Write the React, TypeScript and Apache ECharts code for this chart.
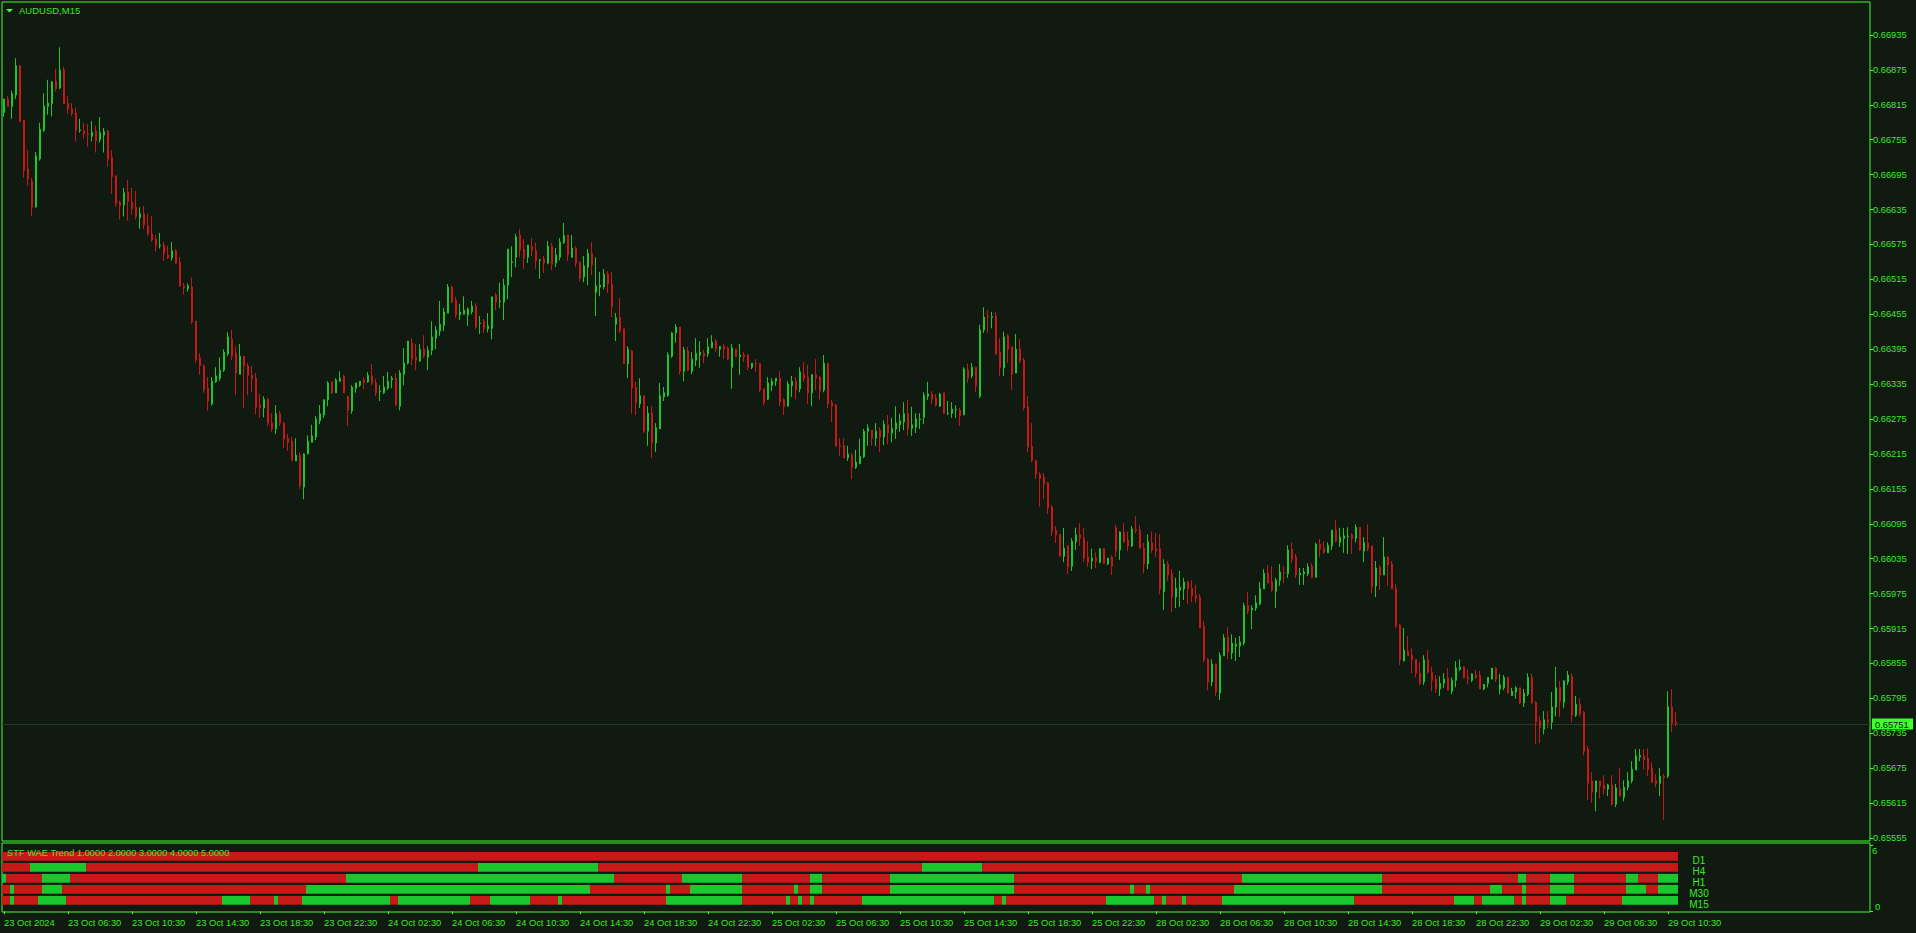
import React, { useEffect, useRef } from "react";
import * as echarts from "echarts";

// ---------- data (AUDUSD, M15) ----------
const symbolTitle = "AUDUSD,M15";
const indicatorTitle = "STF WAE Trend 1.0000 2.0000 3.0000 4.0000 5.0000";
const lastPrice = 0.65751;

const tickLabels = [
  "23 Oct 2024", "23 Oct 06:30", "23 Oct 10:30", "23 Oct 14:30", "23 Oct 18:30", "23 Oct 22:30",
  "24 Oct 02:30", "24 Oct 06:30", "24 Oct 10:30", "24 Oct 14:30", "24 Oct 18:30", "24 Oct 22:30",
  "25 Oct 02:30", "25 Oct 06:30", "25 Oct 10:30", "25 Oct 14:30", "25 Oct 18:30", "25 Oct 22:30",
  "28 Oct 02:30", "28 Oct 06:30", "28 Oct 10:30", "28 Oct 14:30", "28 Oct 18:30", "28 Oct 22:30",
  "29 Oct 02:30", "29 Oct 06:30", "29 Oct 10:30",
];
const barsPerLabel = 16;

const priceTicks = [
  0.65555, 0.65615, 0.65675, 0.65735, 0.65795, 0.65855, 0.65915, 0.65975, 0.66035, 0.66095,
  0.66155, 0.66215, 0.66275, 0.66335, 0.66395, 0.66455, 0.66515, 0.66575, 0.66635, 0.66695,
  0.66755, 0.66815, 0.66875, 0.66935,
];

const opens = [
  0.66802, 0.66825, 0.66812, 0.66832, 0.66882, 0.66789, 0.66705, 0.66684, 0.66640, 0.66722,
  0.66771, 0.66812, 0.66817, 0.66856, 0.66844, 0.66875, 0.66818, 0.66808, 0.66801, 0.66771,
  0.66770, 0.66765, 0.66761, 0.66770, 0.66755, 0.66763, 0.66770, 0.66725, 0.66693, 0.66647,
  0.66643, 0.66665, 0.66648, 0.66639, 0.66621, 0.66628, 0.66607, 0.66593, 0.66584, 0.66573,
  0.66574, 0.66557, 0.66552, 0.66564, 0.66545, 0.66504, 0.66499, 0.66502, 0.66443, 0.66380,
  0.66366, 0.66328, 0.66301, 0.66339, 0.66345, 0.66359, 0.66387, 0.66412, 0.66388, 0.66352,
  0.66383, 0.66366, 0.66350, 0.66345, 0.66299, 0.66294, 0.66309, 0.66268, 0.66258, 0.66284,
  0.66268, 0.66242, 0.66237, 0.66203, 0.66213, 0.66158, 0.66215, 0.66235, 0.66244, 0.66272,
  0.66282, 0.66308, 0.66339, 0.66320, 0.66340, 0.66349, 0.66314, 0.66289, 0.66328, 0.66333,
  0.66342, 0.66339, 0.66349, 0.66337, 0.66322, 0.66320, 0.66328, 0.66342, 0.66345, 0.66297,
  0.66352, 0.66371, 0.66406, 0.66381, 0.66375, 0.66395, 0.66381, 0.66393, 0.66414, 0.66426,
  0.66436, 0.66457, 0.66502, 0.66479, 0.66454, 0.66455, 0.66454, 0.66459, 0.66469, 0.66439,
  0.66443, 0.66430, 0.66431, 0.66488, 0.66477, 0.66476, 0.66505, 0.66544, 0.66553, 0.66591,
  0.66567, 0.66553, 0.66572, 0.66564, 0.66548, 0.66550, 0.66543, 0.66572, 0.66543, 0.66553,
  0.66578, 0.66591, 0.66553, 0.66569, 0.66545, 0.66519, 0.66536, 0.66560, 0.66493, 0.66502,
  0.66502, 0.66524, 0.66507, 0.66438, 0.66450, 0.66430, 0.66370, 0.66392, 0.66330, 0.66301,
  0.66315, 0.66254, 0.66285, 0.66234, 0.66258, 0.66313, 0.66316, 0.66383, 0.66423, 0.66433,
  0.66357, 0.66392, 0.66357, 0.66376, 0.66385, 0.66388, 0.66387, 0.66397, 0.66409, 0.66395,
  0.66400, 0.66397, 0.66364, 0.66395, 0.66382, 0.66385, 0.66385, 0.66364, 0.66371, 0.66370,
  0.66327, 0.66309, 0.66333, 0.66340, 0.66345, 0.66308, 0.66297, 0.66332, 0.66340, 0.66327,
  0.66352, 0.66347, 0.66320, 0.66351, 0.66347, 0.66325, 0.66371, 0.66303, 0.66299, 0.66229,
  0.66229, 0.66208, 0.66213, 0.66192, 0.66198, 0.66210, 0.66254, 0.66256, 0.66242, 0.66256,
  0.66244, 0.66265, 0.66251, 0.66258, 0.66265, 0.66270, 0.66284, 0.66259, 0.66261, 0.66274,
  0.66278, 0.66314, 0.66318, 0.66311, 0.66297, 0.66320, 0.66284, 0.66285, 0.66291, 0.66290,
  0.66282, 0.66359, 0.66349, 0.66364, 0.66314, 0.66428, 0.66451, 0.66450, 0.66452, 0.66390,
  0.66363, 0.66418, 0.66399, 0.66354, 0.66395, 0.66376, 0.66296, 0.66228, 0.66204, 0.66180,
  0.66175, 0.66165, 0.66124, 0.66084, 0.66077, 0.66039, 0.66057, 0.66022, 0.66064, 0.66076,
  0.66070, 0.66038, 0.66031, 0.66036, 0.66029, 0.66052, 0.66026, 0.66038, 0.66088, 0.66050,
  0.66081, 0.66067, 0.66057, 0.66085, 0.66084, 0.66053, 0.66026, 0.66062, 0.66052, 0.66052,
  0.65978, 0.66026, 0.66009, 0.65969, 0.65981, 0.65983, 0.65995, 0.65984, 0.65972, 0.65969,
  0.65919, 0.65862, 0.65823, 0.65854, 0.65804, 0.65868, 0.65900, 0.65873, 0.65885, 0.65885,
  0.65890, 0.65954, 0.65947, 0.65950, 0.65957, 0.65983, 0.66010, 0.65995, 0.65979, 0.65998,
  0.66011, 0.66009, 0.66051, 0.66038, 0.66007, 0.66009, 0.66009, 0.66022, 0.66003, 0.66060,
  0.66053, 0.66045, 0.66057, 0.66084, 0.66063, 0.66070, 0.66073, 0.66076, 0.66070, 0.66089,
  0.66048, 0.66062, 0.66057, 0.65988, 0.66020, 0.66007, 0.66038, 0.66026, 0.65984, 0.65921,
  0.65859, 0.65876, 0.65869, 0.65862, 0.65838, 0.65823, 0.65861, 0.65840, 0.65828, 0.65811,
  0.65821, 0.65830, 0.65807, 0.65826, 0.65845, 0.65849, 0.65831, 0.65826, 0.65835, 0.65835,
  0.65811, 0.65821, 0.65828, 0.65847, 0.65811, 0.65813, 0.65831, 0.65800, 0.65806, 0.65813,
  0.65787, 0.65802, 0.65831, 0.65788, 0.65756, 0.65742, 0.65758, 0.65754, 0.65780, 0.65814,
  0.65788, 0.65823, 0.65833, 0.65766, 0.65785, 0.65771, 0.65708, 0.65653, 0.65634, 0.65653,
  0.65646, 0.65639, 0.65646, 0.65613, 0.65639, 0.65625, 0.65642, 0.65653, 0.65672, 0.65694,
  0.65696, 0.65692, 0.65675, 0.65654, 0.65649, 0.65661, 0.65661, 0.65780, 0.65754,
];

const highs = [
  0.66825, 0.66830, 0.66839, 0.66895, 0.66883, 0.66789, 0.66737, 0.66689, 0.66734, 0.66784,
  0.66835, 0.66858, 0.66856, 0.66877, 0.66914, 0.66880, 0.66830, 0.66818, 0.66810, 0.66791,
  0.66784, 0.66782, 0.66787, 0.66779, 0.66794, 0.66775, 0.66772, 0.66737, 0.66693, 0.66650,
  0.66672, 0.66686, 0.66672, 0.66667, 0.66639, 0.66641, 0.66628, 0.66624, 0.66591, 0.66595,
  0.66579, 0.66573, 0.66579, 0.66567, 0.66553, 0.66509, 0.66508, 0.66518, 0.66443, 0.66388,
  0.66369, 0.66347, 0.66347, 0.66364, 0.66381, 0.66395, 0.66424, 0.66428, 0.66400, 0.66404,
  0.66383, 0.66371, 0.66366, 0.66354, 0.66318, 0.66314, 0.66311, 0.66285, 0.66299, 0.66289,
  0.66270, 0.66249, 0.66244, 0.66242, 0.66218, 0.66216, 0.66247, 0.66265, 0.66280, 0.66299,
  0.66309, 0.66340, 0.66339, 0.66345, 0.66357, 0.66351, 0.66314, 0.66333, 0.66337, 0.66340,
  0.66347, 0.66356, 0.66369, 0.66344, 0.66333, 0.66349, 0.66356, 0.66349, 0.66354, 0.66359,
  0.66397, 0.66409, 0.66414, 0.66404, 0.66404, 0.66419, 0.66400, 0.66443, 0.66435, 0.66478,
  0.66466, 0.66507, 0.66504, 0.66485, 0.66473, 0.66486, 0.66467, 0.66478, 0.66474, 0.66452,
  0.66447, 0.66457, 0.66485, 0.66492, 0.66509, 0.66516, 0.66567, 0.66572, 0.66593, 0.66602,
  0.66584, 0.66574, 0.66586, 0.66578, 0.66550, 0.66555, 0.66581, 0.66578, 0.66569, 0.66586,
  0.66612, 0.66591, 0.66591, 0.66572, 0.66545, 0.66555, 0.66567, 0.66579, 0.66553, 0.66528,
  0.66533, 0.66529, 0.66528, 0.66457, 0.66483, 0.66430, 0.66400, 0.66394, 0.66339, 0.66345,
  0.66315, 0.66297, 0.66297, 0.66268, 0.66337, 0.66330, 0.66390, 0.66425, 0.66438, 0.66433,
  0.66399, 0.66399, 0.66390, 0.66414, 0.66409, 0.66394, 0.66414, 0.66419, 0.66413, 0.66400,
  0.66404, 0.66400, 0.66404, 0.66395, 0.66404, 0.66390, 0.66387, 0.66371, 0.66378, 0.66371,
  0.66327, 0.66347, 0.66345, 0.66345, 0.66357, 0.66311, 0.66340, 0.66349, 0.66347, 0.66364,
  0.66373, 0.66368, 0.66352, 0.66378, 0.66349, 0.66385, 0.66371, 0.66308, 0.66301, 0.66242,
  0.66242, 0.66229, 0.66217, 0.66222, 0.66241, 0.66258, 0.66266, 0.66256, 0.66268, 0.66261,
  0.66273, 0.66282, 0.66277, 0.66297, 0.66284, 0.66304, 0.66308, 0.66296, 0.66285, 0.66285,
  0.66321, 0.66339, 0.66323, 0.66318, 0.66320, 0.66320, 0.66306, 0.66304, 0.66299, 0.66294,
  0.66364, 0.66370, 0.66371, 0.66364, 0.66437, 0.66467, 0.66462, 0.66459, 0.66459, 0.66414,
  0.66425, 0.66421, 0.66400, 0.66421, 0.66412, 0.66380, 0.66314, 0.66268, 0.66204, 0.66184,
  0.66182, 0.66167, 0.66127, 0.66091, 0.66077, 0.66088, 0.66058, 0.66070, 0.66088, 0.66096,
  0.66088, 0.66065, 0.66052, 0.66046, 0.66053, 0.66053, 0.66036, 0.66041, 0.66093, 0.66082,
  0.66096, 0.66082, 0.66091, 0.66108, 0.66093, 0.66062, 0.66077, 0.66082, 0.66079, 0.66077,
  0.66034, 0.66031, 0.66017, 0.66002, 0.66014, 0.66002, 0.65997, 0.65998, 0.65990, 0.65974,
  0.65928, 0.65864, 0.65862, 0.65854, 0.65874, 0.65905, 0.65917, 0.65905, 0.65899, 0.65902,
  0.65959, 0.65978, 0.65955, 0.65972, 0.65995, 0.66017, 0.66024, 0.66022, 0.66002, 0.66026,
  0.66022, 0.66058, 0.66063, 0.66043, 0.66019, 0.66019, 0.66027, 0.66027, 0.66062, 0.66069,
  0.66065, 0.66063, 0.66084, 0.66101, 0.66088, 0.66088, 0.66089, 0.66079, 0.66094, 0.66089,
  0.66072, 0.66094, 0.66057, 0.66031, 0.66024, 0.66072, 0.66039, 0.66031, 0.65991, 0.65923,
  0.65916, 0.65902, 0.65881, 0.65862, 0.65857, 0.65869, 0.65878, 0.65849, 0.65835, 0.65833,
  0.65838, 0.65847, 0.65831, 0.65859, 0.65862, 0.65850, 0.65845, 0.65838, 0.65844, 0.65842,
  0.65819, 0.65831, 0.65847, 0.65849, 0.65837, 0.65835, 0.65831, 0.65813, 0.65816, 0.65813,
  0.65811, 0.65838, 0.65837, 0.65790, 0.65764, 0.65773, 0.65773, 0.65806, 0.65849, 0.65825,
  0.65826, 0.65842, 0.65838, 0.65799, 0.65795, 0.65773, 0.65713, 0.65668, 0.65653, 0.65653,
  0.65663, 0.65648, 0.65663, 0.65648, 0.65675, 0.65654, 0.65668, 0.65687, 0.65708, 0.65708,
  0.65708, 0.65709, 0.65685, 0.65665, 0.65675, 0.65665, 0.65807, 0.65811, 0.65771,
];

const lows = [
  0.66795, 0.66812, 0.66791, 0.66825, 0.66786, 0.66690, 0.66676, 0.66624, 0.66638, 0.66719,
  0.66769, 0.66798, 0.66795, 0.66838, 0.66842, 0.66817, 0.66800, 0.66796, 0.66752, 0.66767,
  0.66757, 0.66743, 0.66752, 0.66733, 0.66750, 0.66733, 0.66709, 0.66662, 0.66640, 0.66618,
  0.66623, 0.66616, 0.66626, 0.66618, 0.66602, 0.66602, 0.66590, 0.66580, 0.66563, 0.66568,
  0.66547, 0.66550, 0.66547, 0.66542, 0.66502, 0.66489, 0.66494, 0.66439, 0.66372, 0.66351,
  0.66320, 0.66289, 0.66298, 0.66337, 0.66340, 0.66356, 0.66383, 0.66376, 0.66316, 0.66352,
  0.66294, 0.66316, 0.66321, 0.66283, 0.66277, 0.66278, 0.66263, 0.66253, 0.66249, 0.66263,
  0.66225, 0.66220, 0.66203, 0.66203, 0.66155, 0.66137, 0.66215, 0.66235, 0.66239, 0.66266,
  0.66277, 0.66297, 0.66318, 0.66320, 0.66339, 0.66320, 0.66263, 0.66284, 0.66320, 0.66330,
  0.66326, 0.66337, 0.66333, 0.66314, 0.66306, 0.66318, 0.66325, 0.66328, 0.66297, 0.66290,
  0.66333, 0.66369, 0.66368, 0.66359, 0.66373, 0.66380, 0.66359, 0.66385, 0.66395, 0.66418,
  0.66426, 0.66457, 0.66474, 0.66449, 0.66445, 0.66455, 0.66435, 0.66455, 0.66430, 0.66421,
  0.66423, 0.66424, 0.66412, 0.66462, 0.66466, 0.66445, 0.66481, 0.66519, 0.66536, 0.66553,
  0.66533, 0.66543, 0.66555, 0.66533, 0.66516, 0.66526, 0.66541, 0.66531, 0.66536, 0.66548,
  0.66576, 0.66547, 0.66553, 0.66536, 0.66512, 0.66510, 0.66505, 0.66522, 0.66452, 0.66486,
  0.66498, 0.66492, 0.66450, 0.66409, 0.66423, 0.66370, 0.66345, 0.66284, 0.66282, 0.66294,
  0.66251, 0.66229, 0.66208, 0.66218, 0.66258, 0.66306, 0.66313, 0.66380, 0.66406, 0.66351,
  0.66340, 0.66357, 0.66352, 0.66366, 0.66363, 0.66371, 0.66382, 0.66397, 0.66390, 0.66382,
  0.66378, 0.66376, 0.66327, 0.66382, 0.66351, 0.66373, 0.66359, 0.66361, 0.66356, 0.66321,
  0.66299, 0.66308, 0.66323, 0.66332, 0.66297, 0.66282, 0.66297, 0.66313, 0.66309, 0.66321,
  0.66339, 0.66301, 0.66297, 0.66325, 0.66308, 0.66321, 0.66294, 0.66270, 0.66227, 0.66211,
  0.66208, 0.66203, 0.66172, 0.66189, 0.66198, 0.66208, 0.66229, 0.66229, 0.66229, 0.66218,
  0.66230, 0.66232, 0.66235, 0.66241, 0.66253, 0.66256, 0.66247, 0.66246, 0.66251, 0.66258,
  0.66266, 0.66308, 0.66301, 0.66296, 0.66296, 0.66284, 0.66282, 0.66277, 0.66277, 0.66263,
  0.66282, 0.66337, 0.66345, 0.66321, 0.66311, 0.66423, 0.66423, 0.66431, 0.66385, 0.66349,
  0.66349, 0.66371, 0.66325, 0.66354, 0.66371, 0.66290, 0.66218, 0.66201, 0.66172, 0.66124,
  0.66137, 0.66112, 0.66074, 0.66062, 0.66039, 0.66029, 0.66009, 0.66014, 0.66050, 0.66057,
  0.66029, 0.66021, 0.66017, 0.66019, 0.66027, 0.66026, 0.66024, 0.66007, 0.66038, 0.66033,
  0.66062, 0.66048, 0.66055, 0.66079, 0.66053, 0.66010, 0.66017, 0.66045, 0.66038, 0.65974,
  0.65947, 0.65997, 0.65943, 0.65950, 0.65952, 0.65964, 0.65957, 0.65960, 0.65959, 0.65916,
  0.65857, 0.65809, 0.65816, 0.65799, 0.65792, 0.65868, 0.65862, 0.65862, 0.65859, 0.65866,
  0.65886, 0.65940, 0.65914, 0.65945, 0.65955, 0.65983, 0.65993, 0.65978, 0.65950, 0.65988,
  0.65993, 0.66002, 0.66027, 0.66002, 0.65990, 0.65990, 0.66005, 0.66002, 0.66003, 0.66038,
  0.66043, 0.66045, 0.66050, 0.66063, 0.66055, 0.66045, 0.66043, 0.66043, 0.66063, 0.66048,
  0.66029, 0.66048, 0.65976, 0.65969, 0.65981, 0.66007, 0.65988, 0.65983, 0.65916, 0.65852,
  0.65859, 0.65868, 0.65838, 0.65831, 0.65818, 0.65818, 0.65837, 0.65807, 0.65804, 0.65799,
  0.65813, 0.65809, 0.65802, 0.65814, 0.65842, 0.65830, 0.65819, 0.65823, 0.65828, 0.65811,
  0.65809, 0.65814, 0.65828, 0.65823, 0.65802, 0.65809, 0.65804, 0.65799, 0.65794, 0.65785,
  0.65780, 0.65799, 0.65785, 0.65716, 0.65718, 0.65733, 0.65744, 0.65742, 0.65764, 0.65763,
  0.65778, 0.65818, 0.65754, 0.65763, 0.65764, 0.65697, 0.65620, 0.65615, 0.65601, 0.65623,
  0.65630, 0.65627, 0.65611, 0.65608, 0.65627, 0.65618, 0.65637, 0.65649, 0.65672, 0.65687,
  0.65673, 0.65661, 0.65649, 0.65642, 0.65627, 0.65586, 0.65658, 0.65737, 0.65747,
];

const closes = [
  0.66825, 0.66812, 0.66834, 0.66882, 0.66786, 0.66702, 0.66688, 0.66639, 0.66727, 0.66773,
  0.66813, 0.66818, 0.66854, 0.66843, 0.66875, 0.66817, 0.66808, 0.66800, 0.66771, 0.66772,
  0.66765, 0.66764, 0.66768, 0.66753, 0.66767, 0.66769, 0.66722, 0.66692, 0.66645, 0.66642,
  0.66664, 0.66649, 0.66637, 0.66623, 0.66628, 0.66609, 0.66594, 0.66583, 0.66573, 0.66574,
  0.66559, 0.66552, 0.66564, 0.66543, 0.66504, 0.66501, 0.66504, 0.66442, 0.66377, 0.66367,
  0.66325, 0.66306, 0.66340, 0.66349, 0.66359, 0.66390, 0.66416, 0.66383, 0.66354, 0.66383,
  0.66366, 0.66350, 0.66344, 0.66295, 0.66294, 0.66309, 0.66268, 0.66258, 0.66284, 0.66268,
  0.66241, 0.66235, 0.66204, 0.66213, 0.66160, 0.66215, 0.66237, 0.66246, 0.66275, 0.66284,
  0.66308, 0.66337, 0.66320, 0.66342, 0.66345, 0.66320, 0.66290, 0.66330, 0.66337, 0.66340,
  0.66337, 0.66350, 0.66337, 0.66320, 0.66323, 0.66330, 0.66340, 0.66345, 0.66299, 0.66354,
  0.66371, 0.66409, 0.66378, 0.66376, 0.66395, 0.66383, 0.66393, 0.66416, 0.66428, 0.66438,
  0.66459, 0.66502, 0.66476, 0.66454, 0.66459, 0.66462, 0.66464, 0.66469, 0.66433, 0.66440,
  0.66430, 0.66435, 0.66485, 0.66476, 0.66478, 0.66505, 0.66567, 0.66545, 0.66588, 0.66565,
  0.66552, 0.66574, 0.66565, 0.66547, 0.66549, 0.66543, 0.66572, 0.66541, 0.66557, 0.66579,
  0.66590, 0.66557, 0.66569, 0.66543, 0.66517, 0.66538, 0.66560, 0.66540, 0.66504, 0.66505,
  0.66524, 0.66507, 0.66468, 0.66449, 0.66426, 0.66370, 0.66395, 0.66328, 0.66303, 0.66315,
  0.66254, 0.66285, 0.66234, 0.66260, 0.66315, 0.66320, 0.66385, 0.66423, 0.66433, 0.66357,
  0.66394, 0.66359, 0.66378, 0.66388, 0.66390, 0.66383, 0.66399, 0.66407, 0.66395, 0.66400,
  0.66395, 0.66378, 0.66397, 0.66382, 0.66385, 0.66382, 0.66364, 0.66371, 0.66370, 0.66325,
  0.66303, 0.66337, 0.66340, 0.66345, 0.66304, 0.66296, 0.66335, 0.66340, 0.66325, 0.66356,
  0.66345, 0.66320, 0.66351, 0.66345, 0.66323, 0.66371, 0.66301, 0.66297, 0.66229, 0.66228,
  0.66208, 0.66215, 0.66192, 0.66201, 0.66211, 0.66254, 0.66260, 0.66242, 0.66254, 0.66244,
  0.66266, 0.66251, 0.66259, 0.66268, 0.66272, 0.66284, 0.66258, 0.66265, 0.66275, 0.66275,
  0.66316, 0.66318, 0.66309, 0.66299, 0.66318, 0.66285, 0.66285, 0.66292, 0.66292, 0.66280,
  0.66361, 0.66345, 0.66364, 0.66332, 0.66428, 0.66450, 0.66450, 0.66451, 0.66387, 0.66363,
  0.66416, 0.66395, 0.66352, 0.66395, 0.66375, 0.66294, 0.66227, 0.66204, 0.66180, 0.66173,
  0.66163, 0.66122, 0.66082, 0.66076, 0.66039, 0.66053, 0.66021, 0.66065, 0.66076, 0.66070,
  0.66036, 0.66029, 0.66036, 0.66031, 0.66052, 0.66027, 0.66036, 0.66022, 0.66048, 0.66081,
  0.66064, 0.66057, 0.66086, 0.66084, 0.66053, 0.66026, 0.66064, 0.66050, 0.66048, 0.65983,
  0.66026, 0.66007, 0.65969, 0.65984, 0.65986, 0.65995, 0.65983, 0.65971, 0.65967, 0.65916,
  0.65861, 0.65823, 0.65854, 0.65806, 0.65869, 0.65899, 0.65874, 0.65890, 0.65888, 0.65892,
  0.65954, 0.65945, 0.65950, 0.65959, 0.65984, 0.66010, 0.65993, 0.65981, 0.65998, 0.66012,
  0.66010, 0.66050, 0.66034, 0.66007, 0.66010, 0.66012, 0.66021, 0.66002, 0.66060, 0.66051,
  0.66046, 0.66058, 0.66084, 0.66065, 0.66072, 0.66074, 0.66074, 0.66070, 0.66089, 0.66050,
  0.66063, 0.66053, 0.65986, 0.66019, 0.66007, 0.66038, 0.66024, 0.65983, 0.65919, 0.65861,
  0.65878, 0.65868, 0.65861, 0.65838, 0.65821, 0.65861, 0.65840, 0.65826, 0.65811, 0.65821,
  0.65828, 0.65809, 0.65826, 0.65847, 0.65849, 0.65830, 0.65828, 0.65837, 0.65831, 0.65811,
  0.65819, 0.65831, 0.65847, 0.65828, 0.65818, 0.65831, 0.65804, 0.65807, 0.65813, 0.65787,
  0.65804, 0.65831, 0.65788, 0.65754, 0.65744, 0.65758, 0.65754, 0.65780, 0.65813, 0.65790,
  0.65825, 0.65835, 0.65766, 0.65785, 0.65768, 0.65704, 0.65649, 0.65634, 0.65653, 0.65644,
  0.65639, 0.65646, 0.65613, 0.65641, 0.65627, 0.65642, 0.65653, 0.65673, 0.65696, 0.65697,
  0.65689, 0.65673, 0.65651, 0.65648, 0.65661, 0.65659, 0.65780, 0.65752, 0.65751,
];

// STF WAE Trend rows: bar index ranges where the row is green (all other bars are red)
const rowNames = ["D1", "H4", "H1", "M30", "M15"];
const rowLevels = [5, 4, 3, 2, 1];
const d1Green: number[][] = [];
const h4Green = [[7, 20], [119, 148], [230, 244]];
const h1Green = [
  [0, 0], [10, 16], [86, 152], [170, 184], [202, 204], [222, 252], [310, 344],
  [379, 380], [387, 392], [406, 408], [414, 418],
];
const m30Green = [
  [2, 2], [10, 14], [76, 146], [166, 166], [172, 184], [198, 198], [202, 204], [222, 252],
  [282, 282], [286, 286], [308, 344], [372, 374], [380, 380], [387, 392], [406, 410], [414, 418],
];
const m15Green = [
  [2, 2], [9, 15], [55, 61], [68, 68], [75, 96], [99, 116], [122, 131], [139, 139],
  [166, 184], [196, 196], [199, 199], [202, 202], [215, 247], [250, 250], [276, 287],
  [290, 290], [295, 295], [305, 337], [363, 367], [370, 377], [380, 380], [387, 390], [405, 418],
];
const rowGreens = [d1Green, h4Green, h1Green, m30Green, m15Green];

// ---------- styling ----------
const BG = "#111a11";
const FRAME = "#3dff2a";
const TEXT = "#3ae82a";
const BULL = "#1ac82e";
const BEAR = "#c81919";
const FONT = "Liberation Sans";
const SLOTS = 467; // bar slots incl. the empty right shift of the chart

export default function App() {
  const ref = useRef<HTMLDivElement>(null);

  useEffect(() => {
    if (!ref.current) return;
    const chart = echarts.init(ref.current, null, { renderer: "svg" });
    const n = opens.length;
    const categories = Array.from({ length: SLOTS }, (_, i) => String(i));
    const candles = opens.map((o, i) => [o, closes[i], lows[i], highs[i]]);

    const indicatorRuns: number[][] = [];
    rowGreens.forEach((runs, r) => {
      const isGreen = (i: number) => runs.some(([a, b]) => i >= a && i <= b);
      let start = 0;
      let state = isGreen(0);
      for (let i = 1; i <= n; i++) {
        const s = i < n ? isGreen(i) : !state;
        if (s !== state || i === n) {
          indicatorRuns.push([start, i - 1, rowLevels[r], state ? 1 : 0]);
          start = i;
          state = s;
        }
      }
    });

    const isLabelIdx = (idx: number) => idx % barsPerLabel === 0 && idx / barsPerLabel < tickLabels.length;

    const option: any = {
      animation: false,
      backgroundColor: BG,
      textStyle: { fontFamily: FONT },
      grid: [
        { left: 2, top: 2, width: 1868, height: 839, show: true, borderColor: FRAME, borderWidth: 1, backgroundColor: "transparent" },
        { left: 2, top: 843, width: 1868, height: 69, show: true, borderColor: FRAME, borderWidth: 1, backgroundColor: "transparent" },
      ],
      xAxis: [
        { type: "category", gridIndex: 0, data: categories, boundaryGap: true, show: false },
        {
          type: "category",
          gridIndex: 1,
          data: categories,
          boundaryGap: true,
          axisLine: { show: false },
          axisTick: { show: true, interval: (idx: number) => isLabelIdx(idx), alignWithLabel: true, length: 3, lineStyle: { color: FRAME } },
          axisLabel: {
            interval: (idx: number) => isLabelIdx(idx),
            formatter: (_v: string, idx: number) => tickLabels[idx / barsPerLabel] ?? "",
            align: "left",
            margin: 6,
            color: TEXT,
            fontFamily: FONT,
            fontSize: 9.3,
          },
          splitLine: { show: false },
        },
      ],
      yAxis: [
        {
          type: "value",
          gridIndex: 0,
          position: "right",
          min: 0.655498,
          max: 0.669917,
          axisLine: { show: false },
          splitLine: { show: false },
          axisTick: { show: true, customValues: priceTicks, length: 3, lineStyle: { color: FRAME } },
          axisLabel: {
            customValues: priceTicks,
            formatter: (v: number) => v.toFixed(5),
            margin: 3,
            color: TEXT,
            fontFamily: FONT,
            fontSize: 9.3,
          },
        },
        {
          type: "value",
          gridIndex: 1,
          position: "right",
          min: -0.064,
          max: 6.21,
          axisLine: { show: false },
          splitLine: { show: false },
          axisTick: { show: true, customValues: [6, 0], length: 3, lineStyle: { color: FRAME } },
          axisLabel: {
            customValues: [6],
            formatter: (v: number) => String(Math.round(v)),
            verticalAlign: "top",
            margin: 2,
            color: TEXT,
            fontFamily: FONT,
            fontSize: 9.5,
          },
        },
        {
          type: "value",
          gridIndex: 1,
          position: "right",
          min: -0.064,
          max: 6.21,
          axisLine: { show: false },
          splitLine: { show: false },
          axisTick: { show: false },
          axisLabel: {
            customValues: [0],
            formatter: (v: number) => String(Math.round(v)),
            verticalAlign: "bottom",
            margin: 5,
            color: TEXT,
            fontFamily: FONT,
            fontSize: 9.5,
          },
        },
      ],
      series: [
        {
          type: "candlestick",
          xAxisIndex: 0,
          yAxisIndex: 0,
          data: candles,
          barWidth: 2,
          large: false,
          itemStyle: {
            color: BULL,
            color0: BEAR,
            borderColor: BULL,
            borderColor0: BEAR,
            borderWidth: 1,
          },
        },
        {
          // current bid line + price box on the price scale
          type: "custom",
          xAxisIndex: 0,
          yAxisIndex: 0,
          clip: false,
          z: 1,
          encode: { x: 0, y: 1 },
          data: [[0, lastPrice]],
          renderItem: (params: any, api: any) => {
            const cs = params.coordSys;
            const p = api.coord([0, api.value(1)]);
            const y = Math.round(p[1]) + 0.5;
            const right = cs.x + cs.width;
            return {
              type: "group",
              children: [
                {
                  type: "line",
                  shape: { x1: cs.x, y1: y, x2: right, y2: y },
                  style: { stroke: "#233820", lineWidth: 1 },
                },
                {
                  type: "rect",
                  shape: { x: right + 2, y: y - 6, width: 41, height: 11 },
                  style: { fill: FRAME },
                },
                {
                  type: "text",
                  x: right + 5,
                  y: y,
                  style: {
                    text: lastPrice.toFixed(5),
                    fill: "#0c140c",
                    font: `9.3px "${FONT}"`,
                    textVerticalAlign: "middle",
                  },
                },
              ],
            };
          },
        },
        {
          type: "custom",
          xAxisIndex: 1,
          yAxisIndex: 1,
          encode: { x: [0, 1], y: 2 },
          data: indicatorRuns,
          renderItem: (_params: any, api: any) => {
            const s = api.value(0);
            const e = api.value(1);
            const r = api.value(2);
            const st = api.value(3);
            const a = api.coord([s, r]);
            const b = api.coord([e, r]);
            const bw = api.size([1, 0])[0];
            const h = api.size([0, 0.8])[1];
            return {
              type: "rect",
              shape: { x: a[0] - bw / 2, y: a[1] - h / 2, width: b[0] - a[0] + bw, height: h },
              style: { fill: st ? BULL : BEAR },
            };
          },
        },
      ],
      graphic: [
        { type: "polygon", shape: { points: [[6, 9], [13, 9], [9.5, 12.5]] }, style: { fill: FRAME } },
        {
          type: "text",
          x: 19,
          y: 10.5,
          style: { text: symbolTitle, fill: TEXT, font: `9.5px "${FONT}"`, textVerticalAlign: "middle" },
        },
        {
          type: "text",
          x: 7,
          y: 852.5,
          z: 100,
          style: { text: indicatorTitle, fill: TEXT, font: `9.3px "${FONT}"`, textVerticalAlign: "middle" },
        },
        ...rowNames.map((name, k) => ({
          type: "text",
          x: 1699,
          y: 860 + k * 11.2,
          style: { text: name, fill: TEXT, font: `10px "${FONT}"`, textAlign: "center", textVerticalAlign: "middle" },
        })),
      ],
    };

    chart.setOption(option);
    return () => chart.dispose();
  }, []);

  return (
    <div
      ref={ref}
      style={{ position: "absolute", left: 0, top: 0, width: 1916, height: 933, background: BG }}
    />
  );
}
